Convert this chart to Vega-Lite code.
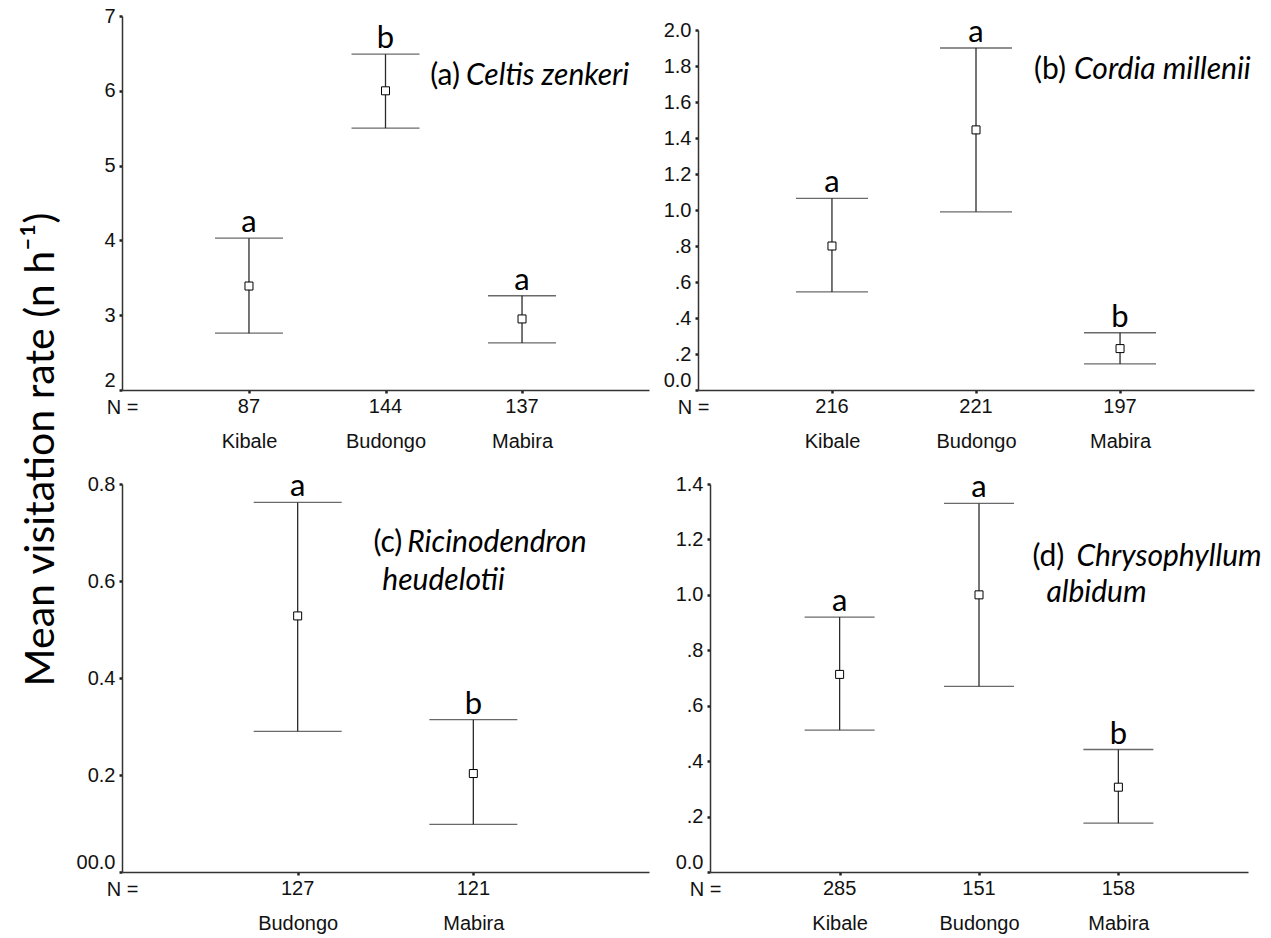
{
  "$schema": "https://vega.github.io/schema/vega-lite/v6.json",
  "background": "white",
  "padding": {"left": 21, "top": 6, "right": 5, "bottom": 5},
  "title": {"text": "Mean visitation rate (n h⁻¹)", "orient": "left", "anchor": "middle", "font": "Lato, DejaVu Sans", "fontSize": 41, "fontWeight": "normal", "color": "black", "offset": 13, "dx": 20},
  "spacing": 20,
  "vconcat": [
    {
      "spacing": 14,
      "hconcat": [
        {
          "width": 527, "height": 374,
          "data": {"values": [
            {"site": "Kibale", "n": 87, "mean": 3.39, "lower": 2.76, "upper": 4.03, "group": "a"},
            {"site": "Budongo", "n": 144, "mean": 6.0, "lower": 5.5, "upper": 6.49, "group": "b"},
            {"site": "Mabira", "n": 137, "mean": 2.95, "lower": 2.63, "upper": 3.26, "group": "a"}
          ]},
          "encoding": {"x": {"field": "site", "type": "nominal", "sort": null, "scale": {"type": "point", "padding": 0.93}, "axis": {"title": "N =", "titleX": 0, "titleY": 17, "titleAlign": "center", "titleBaseline": "middle", "labelAngle": 0, "labelPadding": 38}}},
          "layer": [
            {"mark": {"type": "rule", "color": "#2b2b2b", "strokeWidth": 1.3},
             "encoding": {"y": {"field": "lower", "type": "quantitative", "title": null, "scale": {"domain": [2, 7], "nice": false, "zero": false}, "axis": {"title": null, "values": [2, 3, 4, 5, 6, 7], "format": "d", "labelOverlap": false, "labelBaseline": {"condition": {"test": "datum.value == 2", "value": "bottom"}, "value": "middle"}}}, "y2": {"field": "upper"}}},
            {"mark": {"type": "tick", "size": 68, "thickness": 1.3, "color": "#2b2b2b"}, "encoding": {"y": {"field": "upper", "type": "quantitative", "title": null, "scale": {"domain": [2, 7], "nice": false, "zero": false}, "axis": {"title": null, "values": [2, 3, 4, 5, 6, 7], "format": "d", "labelOverlap": false, "labelBaseline": {"condition": {"test": "datum.value == 2", "value": "bottom"}, "value": "middle"}}}}},
            {"mark": {"type": "tick", "size": 68, "thickness": 1.3, "color": "#2b2b2b"}, "encoding": {"y": {"field": "lower", "type": "quantitative", "title": null, "scale": {"domain": [2, 7], "nice": false, "zero": false}, "axis": {"title": null, "values": [2, 3, 4, 5, 6, 7], "format": "d", "labelOverlap": false, "labelBaseline": {"condition": {"test": "datum.value == 2", "value": "bottom"}, "value": "middle"}}}}},
            {"mark": {"type": "point", "shape": "square", "size": 64, "filled": true, "fill": "white", "stroke": "black", "strokeWidth": 1, "opacity": 1}, "encoding": {"y": {"field": "mean", "type": "quantitative", "title": null, "scale": {"domain": [2, 7], "nice": false, "zero": false}, "axis": {"title": null, "values": [2, 3, 4, 5, 6, 7], "format": "d", "labelOverlap": false, "labelBaseline": {"condition": {"test": "datum.value == 2", "value": "bottom"}, "value": "middle"}}}}},
            {"mark": {"type": "text", "font": "Lato", "fontSize": 31, "baseline": "alphabetic", "dy": -6, "color": "black"}, "encoding": {"y": {"field": "upper", "type": "quantitative", "title": null, "scale": {"domain": [2, 7], "nice": false, "zero": false}, "axis": {"title": null, "values": [2, 3, 4, 5, 6, 7], "format": "d", "labelOverlap": false, "labelBaseline": {"condition": {"test": "datum.value == 2", "value": "bottom"}, "value": "middle"}}}, "text": {"field": "group"}}},
            {"mark": {"type": "text", "font": "Liberation Sans", "fontSize": 20, "baseline": "middle", "dy": 17, "color": "#111111"}, "encoding": {"y": {"datum": 2, "type": "quantitative", "title": null, "scale": {"domain": [2, 7], "nice": false, "zero": false}, "axis": {"title": null, "values": [2, 3, 4, 5, 6, 7], "format": "d", "labelOverlap": false, "labelBaseline": {"condition": {"test": "datum.value == 2", "value": "bottom"}, "value": "middle"}}}, "text": {"field": "n"}}},
            {"data": {"values": [{"label": "(a)"}]}, "mark": {"type": "text", "font": "Lato", "fontSize": 30, "align": "right", "baseline": "alphabetic", "dx": -62, "color": "black"}, "encoding": {"x": {"datum": "Mabira"}, "y": {"datum": 6.08, "type": "quantitative", "title": null, "scale": {"domain": [2, 7], "nice": false, "zero": false}, "axis": {"title": null, "values": [2, 3, 4, 5, 6, 7], "format": "d", "labelOverlap": false, "labelBaseline": {"condition": {"test": "datum.value == 2", "value": "bottom"}, "value": "middle"}}}, "text": {"field": "label"}}},
            {"data": {"values": [{"label": "Celtis zenkeri"}]}, "mark": {"type": "text", "font": "Lato", "fontSize": 30, "fontStyle": "italic", "align": "left", "baseline": "alphabetic", "dx": -56, "color": "black"}, "encoding": {"x": {"datum": "Mabira"}, "y": {"datum": 6.08, "type": "quantitative", "title": null, "scale": {"domain": [2, 7], "nice": false, "zero": false}, "axis": {"title": null, "values": [2, 3, 4, 5, 6, 7], "format": "d", "labelOverlap": false, "labelBaseline": {"condition": {"test": "datum.value == 2", "value": "bottom"}, "value": "middle"}}}, "text": {"field": "label"}}}
          ]
        },
        {
          "spacing": 0,
          "vconcat": [
            {"width": 10, "height": 1, "data": {"values": []}, "mark": "point", "encoding": {}},
            {
              "width": 556, "height": 360,
              "data": {"values": [
                {"site": "Kibale", "n": 216, "mean": 0.8, "lower": 0.545, "upper": 1.065, "group": "a"},
                {"site": "Budongo", "n": 221, "mean": 1.445, "lower": 0.99, "upper": 1.9, "group": "a"},
                {"site": "Mabira", "n": 197, "mean": 0.23, "lower": 0.145, "upper": 0.318, "group": "b"}
              ]},
              "encoding": {"x": {"field": "site", "type": "nominal", "sort": null, "scale": {"type": "point", "padding": 0.93}, "axis": {"title": "N =", "titleX": -5, "titleY": 17, "titleAlign": "center", "titleBaseline": "middle", "labelAngle": 0, "labelPadding": 38}}},
              "layer": [
                {"mark": {"type": "rule", "color": "#2b2b2b", "strokeWidth": 1.3},
                 "encoding": {"y": {"field": "lower", "type": "quantitative", "title": null, "scale": {"domain": [0, 2], "nice": false, "zero": false}, "axis": {"title": null, "values": [0, 0.2, 0.4, 0.6, 0.8, 1.0, 1.2, 1.4, 1.6, 1.8, 2.0], "labelOverlap": false, "labelExpr": "datum.value == 0 ? '0.0' : (datum.value < 1 ? replace(format(datum.value, '.1f'), '0.', '.') : format(datum.value, '.1f'))", "labelBaseline": {"condition": {"test": "datum.value == 0", "value": "bottom"}, "value": "middle"}}}, "y2": {"field": "upper"}}},
                {"mark": {"type": "tick", "size": 72, "thickness": 1.3, "color": "#2b2b2b"}, "encoding": {"y": {"field": "upper", "type": "quantitative", "title": null, "scale": {"domain": [0, 2], "nice": false, "zero": false}, "axis": {"title": null, "values": [0, 0.2, 0.4, 0.6, 0.8, 1.0, 1.2, 1.4, 1.6, 1.8, 2.0], "labelOverlap": false, "labelExpr": "datum.value == 0 ? '0.0' : (datum.value < 1 ? replace(format(datum.value, '.1f'), '0.', '.') : format(datum.value, '.1f'))", "labelBaseline": {"condition": {"test": "datum.value == 0", "value": "bottom"}, "value": "middle"}}}}},
                {"mark": {"type": "tick", "size": 72, "thickness": 1.3, "color": "#2b2b2b"}, "encoding": {"y": {"field": "lower", "type": "quantitative", "title": null, "scale": {"domain": [0, 2], "nice": false, "zero": false}, "axis": {"title": null, "values": [0, 0.2, 0.4, 0.6, 0.8, 1.0, 1.2, 1.4, 1.6, 1.8, 2.0], "labelOverlap": false, "labelExpr": "datum.value == 0 ? '0.0' : (datum.value < 1 ? replace(format(datum.value, '.1f'), '0.', '.') : format(datum.value, '.1f'))", "labelBaseline": {"condition": {"test": "datum.value == 0", "value": "bottom"}, "value": "middle"}}}}},
                {"mark": {"type": "point", "shape": "square", "size": 64, "filled": true, "fill": "white", "stroke": "black", "strokeWidth": 1, "opacity": 1}, "encoding": {"y": {"field": "mean", "type": "quantitative", "title": null, "scale": {"domain": [0, 2], "nice": false, "zero": false}, "axis": {"title": null, "values": [0, 0.2, 0.4, 0.6, 0.8, 1.0, 1.2, 1.4, 1.6, 1.8, 2.0], "labelOverlap": false, "labelExpr": "datum.value == 0 ? '0.0' : (datum.value < 1 ? replace(format(datum.value, '.1f'), '0.', '.') : format(datum.value, '.1f'))", "labelBaseline": {"condition": {"test": "datum.value == 0", "value": "bottom"}, "value": "middle"}}}}},
                {"mark": {"type": "text", "font": "Lato", "fontSize": 31, "baseline": "alphabetic", "dy": -6, "color": "black"}, "encoding": {"y": {"field": "upper", "type": "quantitative", "title": null, "scale": {"domain": [0, 2], "nice": false, "zero": false}, "axis": {"title": null, "values": [0, 0.2, 0.4, 0.6, 0.8, 1.0, 1.2, 1.4, 1.6, 1.8, 2.0], "labelOverlap": false, "labelExpr": "datum.value == 0 ? '0.0' : (datum.value < 1 ? replace(format(datum.value, '.1f'), '0.', '.') : format(datum.value, '.1f'))", "labelBaseline": {"condition": {"test": "datum.value == 0", "value": "bottom"}, "value": "middle"}}}, "text": {"field": "group"}}},
                {"mark": {"type": "text", "font": "Liberation Sans", "fontSize": 20, "baseline": "middle", "dy": 17, "color": "#111111"}, "encoding": {"y": {"datum": 0, "type": "quantitative", "title": null, "scale": {"domain": [0, 2], "nice": false, "zero": false}, "axis": {"title": null, "values": [0, 0.2, 0.4, 0.6, 0.8, 1.0, 1.2, 1.4, 1.6, 1.8, 2.0], "labelOverlap": false, "labelExpr": "datum.value == 0 ? '0.0' : (datum.value < 1 ? replace(format(datum.value, '.1f'), '0.', '.') : format(datum.value, '.1f'))", "labelBaseline": {"condition": {"test": "datum.value == 0", "value": "bottom"}, "value": "middle"}}}, "text": {"field": "n"}}},
                {"data": {"values": [{"label": "(b)"}]}, "mark": {"type": "text", "font": "Lato", "fontSize": 30, "align": "right", "baseline": "alphabetic", "dx": -54, "color": "black"}, "encoding": {"x": {"datum": "Mabira"}, "y": {"datum": 1.73, "type": "quantitative", "title": null, "scale": {"domain": [0, 2], "nice": false, "zero": false}, "axis": {"title": null, "values": [0, 0.2, 0.4, 0.6, 0.8, 1.0, 1.2, 1.4, 1.6, 1.8, 2.0], "labelOverlap": false, "labelExpr": "datum.value == 0 ? '0.0' : (datum.value < 1 ? replace(format(datum.value, '.1f'), '0.', '.') : format(datum.value, '.1f'))", "labelBaseline": {"condition": {"test": "datum.value == 0", "value": "bottom"}, "value": "middle"}}}, "text": {"field": "label"}}},
                {"data": {"values": [{"label": "Cordia millenii"}]}, "mark": {"type": "text", "font": "Lato", "fontSize": 30, "fontStyle": "italic", "align": "left", "baseline": "alphabetic", "dx": -46, "color": "black"}, "encoding": {"x": {"datum": "Mabira"}, "y": {"datum": 1.73, "type": "quantitative", "title": null, "scale": {"domain": [0, 2], "nice": false, "zero": false}, "axis": {"title": null, "values": [0, 0.2, 0.4, 0.6, 0.8, 1.0, 1.2, 1.4, 1.6, 1.8, 2.0], "labelOverlap": false, "labelExpr": "datum.value == 0 ? '0.0' : (datum.value < 1 ? replace(format(datum.value, '.1f'), '0.', '.') : format(datum.value, '.1f'))", "labelBaseline": {"condition": {"test": "datum.value == 0", "value": "bottom"}, "value": "middle"}}}, "text": {"field": "label"}}}
              ]
            }
          ]
        }
      ]
    },
    {
      "spacing": 26,
      "hconcat": [
        {
          "width": 527, "height": 388,
          "data": {"values": [
            {"site": "Budongo", "n": 127, "mean": 0.528, "lower": 0.29, "upper": 0.762, "group": "a"},
            {"site": "Mabira", "n": 121, "mean": 0.203, "lower": 0.098, "upper": 0.314, "group": "b"}
          ]},
          "encoding": {"x": {"field": "site", "type": "nominal", "sort": null, "scale": {"type": "point", "padding": 1}, "axis": {"title": "N =", "titleX": 0, "titleY": 17, "titleAlign": "center", "titleBaseline": "middle", "labelAngle": 0, "labelPadding": 38}}},
          "layer": [
            {"mark": {"type": "rule", "color": "#2b2b2b", "strokeWidth": 1.3},
             "encoding": {"y": {"field": "lower", "type": "quantitative", "title": null, "scale": {"domain": [0, 0.8], "nice": false, "zero": false}, "axis": {"title": null, "values": [0, 0.2, 0.4, 0.6, 0.8], "labelOverlap": false, "labelExpr": "datum.value == 0 ? '00.0' : format(datum.value, '.1f')", "labelBaseline": {"condition": {"test": "datum.value == 0", "value": "bottom"}, "value": "middle"}}}, "y2": {"field": "upper"}}},
            {"mark": {"type": "tick", "size": 88, "thickness": 1.3, "color": "#2b2b2b"}, "encoding": {"y": {"field": "upper", "type": "quantitative", "title": null, "scale": {"domain": [0, 0.8], "nice": false, "zero": false}, "axis": {"title": null, "values": [0, 0.2, 0.4, 0.6, 0.8], "labelOverlap": false, "labelExpr": "datum.value == 0 ? '00.0' : format(datum.value, '.1f')", "labelBaseline": {"condition": {"test": "datum.value == 0", "value": "bottom"}, "value": "middle"}}}}},
            {"mark": {"type": "tick", "size": 88, "thickness": 1.3, "color": "#2b2b2b"}, "encoding": {"y": {"field": "lower", "type": "quantitative", "title": null, "scale": {"domain": [0, 0.8], "nice": false, "zero": false}, "axis": {"title": null, "values": [0, 0.2, 0.4, 0.6, 0.8], "labelOverlap": false, "labelExpr": "datum.value == 0 ? '00.0' : format(datum.value, '.1f')", "labelBaseline": {"condition": {"test": "datum.value == 0", "value": "bottom"}, "value": "middle"}}}}},
            {"mark": {"type": "point", "shape": "square", "size": 64, "filled": true, "fill": "white", "stroke": "black", "strokeWidth": 1, "opacity": 1}, "encoding": {"y": {"field": "mean", "type": "quantitative", "title": null, "scale": {"domain": [0, 0.8], "nice": false, "zero": false}, "axis": {"title": null, "values": [0, 0.2, 0.4, 0.6, 0.8], "labelOverlap": false, "labelExpr": "datum.value == 0 ? '00.0' : format(datum.value, '.1f')", "labelBaseline": {"condition": {"test": "datum.value == 0", "value": "bottom"}, "value": "middle"}}}}},
            {"mark": {"type": "text", "font": "Lato", "fontSize": 31, "baseline": "alphabetic", "dy": -6, "color": "black"}, "encoding": {"y": {"field": "upper", "type": "quantitative", "title": null, "scale": {"domain": [0, 0.8], "nice": false, "zero": false}, "axis": {"title": null, "values": [0, 0.2, 0.4, 0.6, 0.8], "labelOverlap": false, "labelExpr": "datum.value == 0 ? '00.0' : format(datum.value, '.1f')", "labelBaseline": {"condition": {"test": "datum.value == 0", "value": "bottom"}, "value": "middle"}}}, "text": {"field": "group"}}},
            {"mark": {"type": "text", "font": "Liberation Sans", "fontSize": 20, "baseline": "middle", "dy": 17, "color": "#111111"}, "encoding": {"y": {"datum": 0, "type": "quantitative", "title": null, "scale": {"domain": [0, 0.8], "nice": false, "zero": false}, "axis": {"title": null, "values": [0, 0.2, 0.4, 0.6, 0.8], "labelOverlap": false, "labelExpr": "datum.value == 0 ? '00.0' : format(datum.value, '.1f')", "labelBaseline": {"condition": {"test": "datum.value == 0", "value": "bottom"}, "value": "middle"}}}, "text": {"field": "n"}}},
            {"data": {"values": [{"label": "(c)"}]}, "mark": {"type": "text", "font": "Lato", "fontSize": 30, "align": "right", "baseline": "alphabetic", "dx": -71, "color": "black"}, "encoding": {"x": {"datum": "Mabira"}, "y": {"datum": 0.659, "type": "quantitative", "title": null, "scale": {"domain": [0, 0.8], "nice": false, "zero": false}, "axis": {"title": null, "values": [0, 0.2, 0.4, 0.6, 0.8], "labelOverlap": false, "labelExpr": "datum.value == 0 ? '00.0' : format(datum.value, '.1f')", "labelBaseline": {"condition": {"test": "datum.value == 0", "value": "bottom"}, "value": "middle"}}}, "text": {"field": "label"}}},
            {"data": {"values": [{"label": "Ricinodendron"}]}, "mark": {"type": "text", "font": "Lato", "fontSize": 30, "fontStyle": "italic", "align": "left", "baseline": "alphabetic", "dx": -66, "color": "black"}, "encoding": {"x": {"datum": "Mabira"}, "y": {"datum": 0.659, "type": "quantitative", "title": null, "scale": {"domain": [0, 0.8], "nice": false, "zero": false}, "axis": {"title": null, "values": [0, 0.2, 0.4, 0.6, 0.8], "labelOverlap": false, "labelExpr": "datum.value == 0 ? '00.0' : format(datum.value, '.1f')", "labelBaseline": {"condition": {"test": "datum.value == 0", "value": "bottom"}, "value": "middle"}}}, "text": {"field": "label"}}},
            {"data": {"values": [{"label": "heudelotii"}]}, "mark": {"type": "text", "font": "Lato", "fontSize": 30, "fontStyle": "italic", "align": "left", "baseline": "alphabetic", "dx": -91, "color": "black"}, "encoding": {"x": {"datum": "Mabira"}, "y": {"datum": 0.582, "type": "quantitative", "title": null, "scale": {"domain": [0, 0.8], "nice": false, "zero": false}, "axis": {"title": null, "values": [0, 0.2, 0.4, 0.6, 0.8], "labelOverlap": false, "labelExpr": "datum.value == 0 ? '00.0' : format(datum.value, '.1f')", "labelBaseline": {"condition": {"test": "datum.value == 0", "value": "bottom"}, "value": "middle"}}}, "text": {"field": "label"}}}
          ]
        },
        {
          "width": 538, "height": 388,
          "data": {"values": [
            {"site": "Kibale", "n": 285, "mean": 0.713, "lower": 0.512, "upper": 0.92, "group": "a"},
            {"site": "Budongo", "n": 151, "mean": 1.0, "lower": 0.67, "upper": 1.33, "group": "a"},
            {"site": "Mabira", "n": 158, "mean": 0.306, "lower": 0.176, "upper": 0.442, "group": "b"}
          ]},
          "encoding": {"x": {"field": "site", "type": "nominal", "sort": null, "scale": {"type": "point", "padding": 0.93}, "axis": {"title": "N =", "titleX": -5, "titleY": 17, "titleAlign": "center", "titleBaseline": "middle", "labelAngle": 0, "labelPadding": 38}}},
          "layer": [
            {"mark": {"type": "rule", "color": "#2b2b2b", "strokeWidth": 1.3},
             "encoding": {"y": {"field": "lower", "type": "quantitative", "title": null, "scale": {"domain": [0, 1.4], "nice": false, "zero": false}, "axis": {"title": null, "values": [0, 0.2, 0.4, 0.6, 0.8, 1.0, 1.2, 1.4], "labelOverlap": false, "labelExpr": "datum.value == 0 ? '0.0' : (datum.value < 1 ? replace(format(datum.value, '.1f'), '0.', '.') : format(datum.value, '.1f'))", "labelBaseline": {"condition": {"test": "datum.value == 0", "value": "bottom"}, "value": "middle"}}}, "y2": {"field": "upper"}}},
            {"mark": {"type": "tick", "size": 70, "thickness": 1.3, "color": "#2b2b2b"}, "encoding": {"y": {"field": "upper", "type": "quantitative", "title": null, "scale": {"domain": [0, 1.4], "nice": false, "zero": false}, "axis": {"title": null, "values": [0, 0.2, 0.4, 0.6, 0.8, 1.0, 1.2, 1.4], "labelOverlap": false, "labelExpr": "datum.value == 0 ? '0.0' : (datum.value < 1 ? replace(format(datum.value, '.1f'), '0.', '.') : format(datum.value, '.1f'))", "labelBaseline": {"condition": {"test": "datum.value == 0", "value": "bottom"}, "value": "middle"}}}}},
            {"mark": {"type": "tick", "size": 70, "thickness": 1.3, "color": "#2b2b2b"}, "encoding": {"y": {"field": "lower", "type": "quantitative", "title": null, "scale": {"domain": [0, 1.4], "nice": false, "zero": false}, "axis": {"title": null, "values": [0, 0.2, 0.4, 0.6, 0.8, 1.0, 1.2, 1.4], "labelOverlap": false, "labelExpr": "datum.value == 0 ? '0.0' : (datum.value < 1 ? replace(format(datum.value, '.1f'), '0.', '.') : format(datum.value, '.1f'))", "labelBaseline": {"condition": {"test": "datum.value == 0", "value": "bottom"}, "value": "middle"}}}}},
            {"mark": {"type": "point", "shape": "square", "size": 64, "filled": true, "fill": "white", "stroke": "black", "strokeWidth": 1, "opacity": 1}, "encoding": {"y": {"field": "mean", "type": "quantitative", "title": null, "scale": {"domain": [0, 1.4], "nice": false, "zero": false}, "axis": {"title": null, "values": [0, 0.2, 0.4, 0.6, 0.8, 1.0, 1.2, 1.4], "labelOverlap": false, "labelExpr": "datum.value == 0 ? '0.0' : (datum.value < 1 ? replace(format(datum.value, '.1f'), '0.', '.') : format(datum.value, '.1f'))", "labelBaseline": {"condition": {"test": "datum.value == 0", "value": "bottom"}, "value": "middle"}}}}},
            {"mark": {"type": "text", "font": "Lato", "fontSize": 31, "baseline": "alphabetic", "dy": -6, "color": "black"}, "encoding": {"y": {"field": "upper", "type": "quantitative", "title": null, "scale": {"domain": [0, 1.4], "nice": false, "zero": false}, "axis": {"title": null, "values": [0, 0.2, 0.4, 0.6, 0.8, 1.0, 1.2, 1.4], "labelOverlap": false, "labelExpr": "datum.value == 0 ? '0.0' : (datum.value < 1 ? replace(format(datum.value, '.1f'), '0.', '.') : format(datum.value, '.1f'))", "labelBaseline": {"condition": {"test": "datum.value == 0", "value": "bottom"}, "value": "middle"}}}, "text": {"field": "group"}}},
            {"mark": {"type": "text", "font": "Liberation Sans", "fontSize": 20, "baseline": "middle", "dy": 17, "color": "#111111"}, "encoding": {"y": {"datum": 0, "type": "quantitative", "title": null, "scale": {"domain": [0, 1.4], "nice": false, "zero": false}, "axis": {"title": null, "values": [0, 0.2, 0.4, 0.6, 0.8, 1.0, 1.2, 1.4], "labelOverlap": false, "labelExpr": "datum.value == 0 ? '0.0' : (datum.value < 1 ? replace(format(datum.value, '.1f'), '0.', '.') : format(datum.value, '.1f'))", "labelBaseline": {"condition": {"test": "datum.value == 0", "value": "bottom"}, "value": "middle"}}}, "text": {"field": "n"}}},
            {"data": {"values": [{"label": "(d)"}]}, "mark": {"type": "text", "font": "Lato", "fontSize": 30, "align": "right", "baseline": "alphabetic", "dx": -54, "color": "black"}, "encoding": {"x": {"datum": "Mabira"}, "y": {"datum": 1.105, "type": "quantitative", "title": null, "scale": {"domain": [0, 1.4], "nice": false, "zero": false}, "axis": {"title": null, "values": [0, 0.2, 0.4, 0.6, 0.8, 1.0, 1.2, 1.4], "labelOverlap": false, "labelExpr": "datum.value == 0 ? '0.0' : (datum.value < 1 ? replace(format(datum.value, '.1f'), '0.', '.') : format(datum.value, '.1f'))", "labelBaseline": {"condition": {"test": "datum.value == 0", "value": "bottom"}, "value": "middle"}}}, "text": {"field": "label"}}},
            {"data": {"values": [{"label": "Chrysophyllum"}]}, "mark": {"type": "text", "font": "Lato", "fontSize": 30, "fontStyle": "italic", "align": "left", "baseline": "alphabetic", "dx": -42, "color": "black"}, "encoding": {"x": {"datum": "Mabira"}, "y": {"datum": 1.105, "type": "quantitative", "title": null, "scale": {"domain": [0, 1.4], "nice": false, "zero": false}, "axis": {"title": null, "values": [0, 0.2, 0.4, 0.6, 0.8, 1.0, 1.2, 1.4], "labelOverlap": false, "labelExpr": "datum.value == 0 ? '0.0' : (datum.value < 1 ? replace(format(datum.value, '.1f'), '0.', '.') : format(datum.value, '.1f'))", "labelBaseline": {"condition": {"test": "datum.value == 0", "value": "bottom"}, "value": "middle"}}}, "text": {"field": "label"}}},
            {"data": {"values": [{"label": "albidum"}]}, "mark": {"type": "text", "font": "Lato", "fontSize": 30, "fontStyle": "italic", "align": "left", "baseline": "alphabetic", "dx": -72, "color": "black"}, "encoding": {"x": {"datum": "Mabira"}, "y": {"datum": 0.975, "type": "quantitative", "title": null, "scale": {"domain": [0, 1.4], "nice": false, "zero": false}, "axis": {"title": null, "values": [0, 0.2, 0.4, 0.6, 0.8, 1.0, 1.2, 1.4], "labelOverlap": false, "labelExpr": "datum.value == 0 ? '0.0' : (datum.value < 1 ? replace(format(datum.value, '.1f'), '0.', '.') : format(datum.value, '.1f'))", "labelBaseline": {"condition": {"test": "datum.value == 0", "value": "bottom"}, "value": "middle"}}}, "text": {"field": "label"}}}
          ]
        }
      ]
    }
  ],
  "config": {
    "view": {"stroke": null},
    "axis": {"grid": false, "labelOverlap": false, "domainColor": "#333333", "domainWidth": 1.5, "tickColor": "#222222", "tickSize": 3, "tickWidth": 2.5, "labelFont": "Liberation Sans", "labelFontSize": 20, "labelColor": "#111111", "titleFont": "Liberation Sans", "titleFontSize": 20, "titleFontWeight": "normal", "titleColor": "#111111"},
    "axisY": {"labelPadding": 4}
  }
}
